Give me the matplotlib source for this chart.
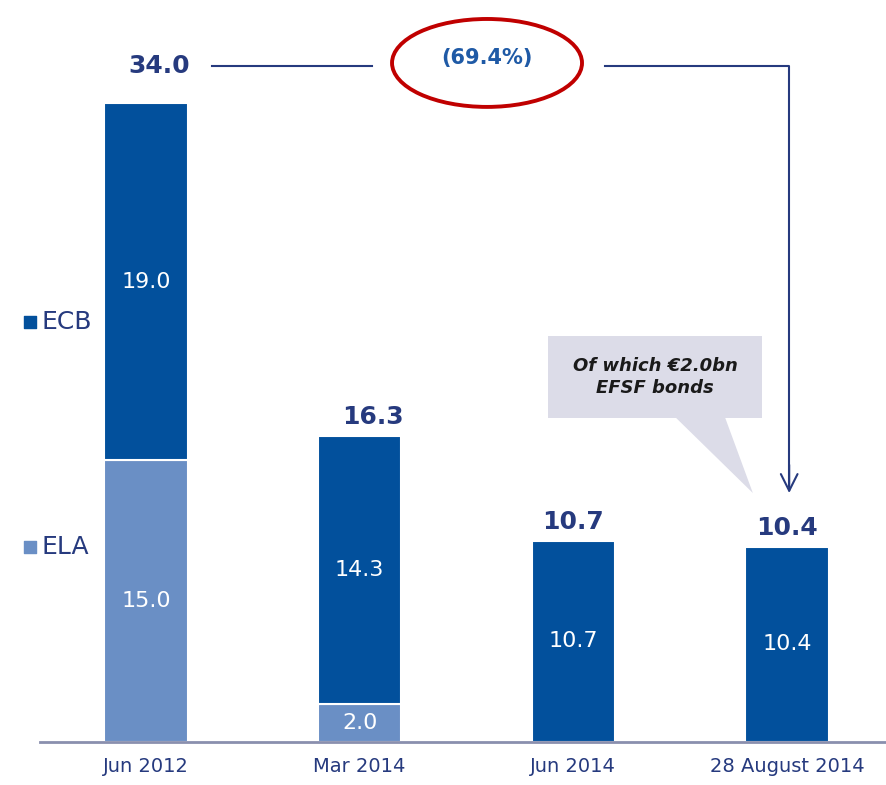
import matplotlib.pyplot as plt
from matplotlib.patches import Ellipse, Polygon, Rectangle

# Werte in EUR bn
periods = ["Jun 2012", "Mar 2014", "Jun 2014", "28 August 2014"]
ela = [15.0, 2.0, 0.0, 0.0]
ecb = [19.0, 14.3, 10.7, 10.4]
totals = [34.0, 16.3, 10.7, 10.4]
change_label = "(69.4%)"
note_text = "Of which €2.0bn\nEFSF bonds"

ECB_COL = "#02509C"
ELA_COL = "#6A8FC5"
NAVY = "#263A7E"

fig = plt.figure(figsize=(8.86, 7.85), dpi=100)
ax = fig.add_axes([0, 43 / 785, 1, 742 / 785])
x = list(range(len(periods)))

ax.bar(x, ela, width=0.39, color=ELA_COL, edgecolor="white", linewidth=1.5)
ax.bar(x, ecb, width=0.39, bottom=ela, color=ECB_COL, edgecolor="white", linewidth=1.5)

y_line = totals[0] + 2.0

for i in x:
    if ela[i] > 0:
        ax.text(i, ela[i] / 2, f"{ela[i]:.1f}", ha="center", va="center", color="white", fontsize=16)
    ax.text(i, ela[i] + ecb[i] / 2, f"{ecb[i]:.1f}", ha="center", va="center", color="white", fontsize=16)
    # erste Summe sitzt auf Höhe der Linie
    ty = y_line if i == 0 else totals[i] + 1.0
    ax.text(i + (0.06 if i < 2 else 0), ty, f"{totals[i]:.1f}", ha="center", va="center",
            color=NAVY, fontsize=18, fontweight="bold")

ax.set_xlim(-0.683, 3.463)
ax.set_ylim(0, 39.49)
for s in ["top", "left", "right"]:
    ax.spines[s].set_visible(False)
ax.spines["bottom"].set_color("#8A8FAE")
ax.spines["bottom"].set_linewidth(2)
ax.spines["bottom"].set_bounds(-0.496, 3.463)
ax.set_yticks([])
ax.set_xticks(x)
ax.set_xticklabels(periods, fontsize=14, color=NAVY)
ax.tick_params(axis="x", length=0, pad=11)

# Legende links
ax.scatter([-0.543], [22.35], marker="s", s=70, color=ECB_COL, clip_on=False)
ax.text(-0.49, 22.35, "ECB", fontsize=18, color=NAVY, va="center")
ax.scatter([-0.543], [10.38], marker="s", s=70, color=ELA_COL, clip_on=False)
ax.text(-0.49, 10.38, "ELA", fontsize=18, color=NAVY, va="center")

# Verbindungslinie mit Pfeil
ax.plot([0.31, 1.058], [y_line, y_line], color=NAVY, lw=1.5)
ax.plot([2.148, 3.01, 3.01], [y_line, y_line, totals[3] + 3.2], color=NAVY, lw=1.5)
ax.annotate("", xy=(3.01, totals[3] + 2.7), xytext=(3.01, totals[3] + 4.5),
            arrowprops=dict(arrowstyle="->", color=NAVY, lw=1.5, mutation_scale=30))
ax.add_patch(Ellipse((1.596, 36.14), 0.889, 4.68, fill=False, edgecolor="#C00000", lw=2.8))
ax.text(1.596, 36.4, change_label, ha="center", va="center", color="#1F5AA6", fontsize=15, fontweight="bold")

# Sprechblase
ax.add_patch(Rectangle((1.881, 17.24), 1.002, 4.37, facecolor="#DCDCE8", edgecolor="none"))
ax.add_patch(Polygon([(2.476, 17.3), (2.709, 17.3), (2.84, 13.25)], facecolor="#DCDCE8", edgecolor="none"))
ax.text(2.382, 19.43, note_text, ha="center", va="center", color="#1A1A1A", fontsize=13,
        fontweight="bold", fontstyle="italic", linespacing=1.3)

plt.savefig("out.png", dpi=100)
